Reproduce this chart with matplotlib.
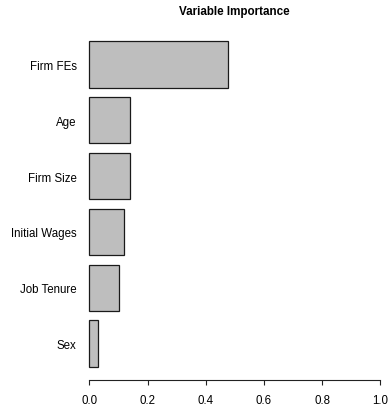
import matplotlib
matplotlib.use("Agg")
import matplotlib.pyplot as plt
import numpy as np

plt.rcParams["font.family"] = ["Liberation Sans", "DejaVu Sans"]

# Variable importance scores (bottom to top)
variables = ["Sex", "Job Tenure", "Initial Wages", "Firm Size", "Age", "Firm FEs"]
importance = [0.031, 0.103, 0.118, 0.139, 0.141, 0.475]
x_ticks = [0.0, 0.2, 0.4, 0.6, 0.8, 1.0]
x_tick_labels = ["0.0", "0.2", "0.4", "0.6", "0.8", "1.0"]

W, H = 390, 406
fig = plt.figure(figsize=(W / 100, H / 100), dpi=100)

# Plot region in pixel units (left, top, right, bottom)
left_px, top_px, right_px, bottom_px = 77.7, 29.0, 391.9, 381.0
ax = fig.add_axes([left_px / W, 1 - bottom_px / H,
                   (right_px - left_px) / W, (bottom_px - top_px) / H])

# barplot-style layout: width 1, space 0.2
centers = 0.7 + 1.2 * np.arange(len(variables))
ax.barh(centers, importance, height=1.0, left=0,
        color="#bebebe", edgecolor="#1a1a1a", linewidth=0.9)

ax.set_xlim(-0.04, 1.04)
ax.set_ylim(-0.08, 7.48)

for side in ["top", "right", "left"]:
    ax.spines[side].set_visible(False)
ax.spines["bottom"].set_bounds(0, 1)
ax.spines["bottom"].set_linewidth(0.8)
ax.spines["bottom"].set_color("#222222")

ax.set_xticks(x_ticks)
ax.set_xticklabels(x_tick_labels, fontsize=8.3)
ax.tick_params(axis="x", direction="out", length=3.8, width=0.8,
               color="#222222", pad=6.5)

ax.set_yticks(centers)
ax.set_yticklabels(variables, fontsize=8.3)
ax.tick_params(axis="y", length=0, pad=0.8)

fig.text((left_px + right_px) / 2 / W, 1 - 12.2 / H, "Variable Importance",
         ha="center", va="center", fontsize=8.4, fontweight="bold")

fig.savefig("out.png", dpi=100)
